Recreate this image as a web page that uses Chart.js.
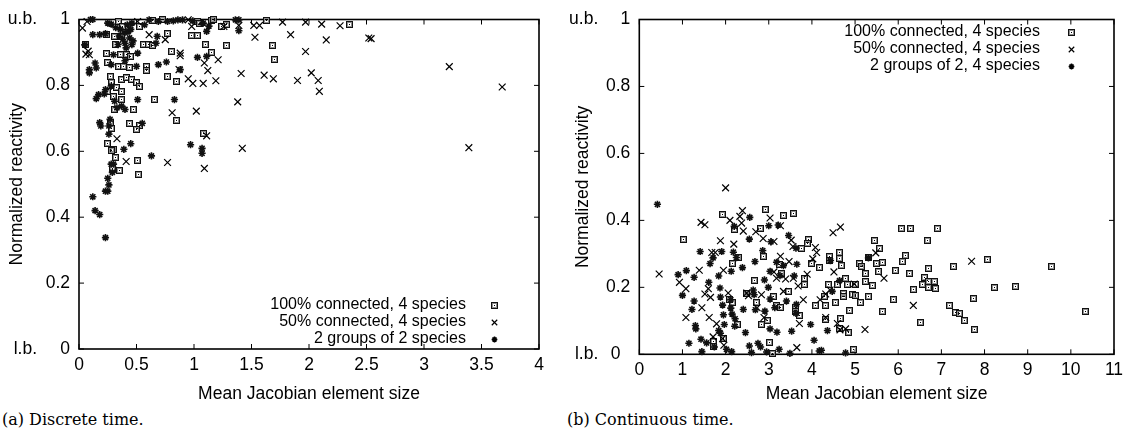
<!DOCTYPE html>
<html>
<head>
<meta charset="utf-8">
<script src="https://cdn.jsdelivr.net/npm/chart.js@4.4.1/dist/chart.umd.min.js"></script>
<style>
html,body{margin:0;padding:0;background:#fff;}
body{width:1131px;height:438px;position:relative;overflow:hidden;}
.panel{position:absolute;top:0;height:405px;}
#p1{left:0;width:565px;}
#p2{left:565px;width:566px;}
.cap{position:absolute;top:411px;font-family:"DejaVu Serif",serif;font-size:16px;line-height:18px;color:#000;white-space:nowrap;}
</style>
</head>
<body>
<div class="panel" id="p1"><canvas id="c1"></canvas></div>
<div class="panel" id="p2"><canvas id="c2"></canvas></div>
<div class="cap" style="left:2px">(a) Discrete time.</div>
<div class="cap" style="left:567px">(b) Continuous time.</div>
<script>
// ---------- tick labels ----------
const xTicksA = [0, 0.5, 1, 1.5, 2, 2.5, 3, 3.5, 4];
const xTicksB = [0, 1, 2, 3, 4, 5, 6, 7, 8, 9, 10, 11];
const yTicks = [0, 0.2, 0.4, 0.6, 0.8, 1];
const boundLabels = ['l.b.', 'u.b.'];
const xTitle = 'Mean Jacobian element size';
const yTitle = 'Normalized reactivity';
const namesA = ['100% connected, 4 species', '50% connected, 4 species', '2 groups of 2 species'];
const namesB = ['100% connected, 4 species', '50% connected, 4 species', '2 groups of 2, 4 species'];

// ---------- (a) discrete time ----------
const discFull = [
[0.34,0.994],[0.38,0.979],[0.53,0.979],[0.64,0.996],[0.73,0.999],[1.03,0.994],[1.15,0.996],[1.05,0.987],[1.17,0.999],[1.28,0.986],[1.24,0.98],[1.63,0.998],[2.35,0.984],
[0.24,0.954],[0.37,0.949],[0.31,0.949],[0.32,0.924],[0.06,0.924],[0.77,0.956],[0.98,0.951],[1.03,0.951],[1.10,0.923],[1.15,0.899],[1.28,0.92],[1.68,0.921],[1.70,0.878],
[0.24,0.898],[0.25,0.868],[0.36,0.893],[0.41,0.893],[0.45,0.888],[0.34,0.858],[0.39,0.858],[0.44,0.855],[0.56,0.924],[0.60,0.924],[0.64,0.921],[0.59,0.858],[0.59,0.845],[0.80,0.903],[0.77,0.828],[0.85,0.811],
[0.27,0.828],[0.37,0.818],[0.41,0.823],[0.46,0.818],[0.50,0.808],[0.53,0.798],[0.28,0.808],[0.33,0.793],[0.37,0.783],[0.25,0.783],[0.30,0.767],[0.37,0.757],[0.66,0.757],[0.31,0.727],[0.47,0.727],[0.85,0.694],
[0.44,0.684],[0.53,0.679],[0.50,0.665],[0.27,0.687],[0.28,0.67],[0.25,0.623],[0.30,0.606],[0.28,0.601],[0.32,0.581],[0.51,0.571],[0.29,0.549],[0.35,0.541],[0.52,0.529],[1.08,0.654]
];
const discHalf = [
[0.03,0.974],[0.07,0.994],[0.51,0.994],[0.95,0.999],[0.61,0.954],[0.75,0.939],[0.08,0.904],[0.09,0.893],[0.06,0.895],[0.88,0.898],[0.88,0.89],
[1.09,0.868],[1.12,0.845],[1.21,0.878],[0.87,0.848],[0.95,0.82],[0.99,0.806],[1.08,0.806],[1.19,0.814],
[0.98,0.979],[1.26,0.979],[1.53,0.946],[1.84,0.954],[1.97,0.992],[2.11,0.986],[2.15,0.938],[2.27,0.981],[1.97,0.903],[2.52,0.944],[2.54,0.942],[1.39,0.982],[1.52,0.982],[1.57,0.982],[1.77,0.992],
[1.41,0.836],[1.61,0.831],[1.69,0.82],[1.90,0.815],[2.02,0.838],[2.08,0.815],[2.09,0.782],[3.22,0.857],[3.68,0.795],[3.39,0.611],
[1.38,0.75],[1.02,0.722],[1.11,0.647],[1.42,0.609],[0.81,0.717],[1.09,0.548],[0.77,0.566],[0.41,0.569],[0.33,0.638]
];
const discGroups = [
[0.10,1.0],[0.12,1.0],[0.25,0.989],[0.28,0.986],[0.42,0.984],[0.46,0.989],[0.57,0.984],[0.61,0.999],[0.69,0.994],[0.77,0.994],[0.82,0.996],[0.86,0.999],[0.90,0.999],[0.99,0.996],[1.08,0.989],[1.13,0.98],[1.36,0.999],[1.39,0.999],[1.39,0.966],
[0.12,0.954],[0.18,0.954],[0.23,0.957],[0.68,0.949],[0.44,0.944],[0.40,0.928],[0.41,0.914],[0.46,0.924],[0.34,0.924],[0.05,0.923],[0.14,0.868],[0.15,0.853],[0.09,0.848],[0.09,0.838],[0.30,0.893],[0.28,0.863],[0.40,0.875],[0.50,0.858],[0.67,0.928],[0.51,0.898],[0.69,0.863],[0.76,0.871],[0.88,0.848],[1.11,0.888],[1.11,0.964],[1.03,0.885],
[0.36,0.97],[0.40,0.96],[0.43,0.965],[0.38,0.94],[0.45,0.97],[0.35,0.95],[0.47,0.935],[0.32,0.975],
[0.28,0.798],[0.22,0.774],[0.17,0.772],[0.15,0.760],[0.31,0.752],[0.51,0.757],[0.83,0.757],[0.33,0.732],[0.37,0.737],[0.40,0.727],[0.27,0.697],[0.23,0.787],
[0.18,0.687],[0.19,0.677],[0.26,0.677],[0.55,0.685],[0.26,0.652],[0.45,0.623],[0.39,0.606],[0.63,0.586],[0.97,0.62],[1.07,0.609],[1.07,0.594],[0.28,0.561],[0.30,0.561],[0.29,0.536],[0.25,0.518],[0.26,0.498],[0.23,0.479],[0.25,0.479],[0.12,0.462],[0.14,0.42],[0.18,0.408],[0.23,0.338]
];

// ---------- (b) continuous time ----------
const contFull = [
[1.02,0.344],[1.92,0.417],[2.2,0.373],[2.93,0.433],[3.34,0.415],[3.57,0.421],[2.81,0.377],[2.87,0.292],[2.15,0.272],[2.29,0.29],[3.24,0.269],[3.76,0.317],[3.93,0.344],[3.89,0.331],[4.0,0.272],[4.17,0.258],[4.08,0.147],[2.66,0.22],[2.49,0.182],[2.72,0.156],[2.83,0.09],[2.97,0.1],[3.01,0.034],[3.09,0.001],[3.10,0.173],[3.18,0.147],[3.27,0.141],[3.45,0.188],[3.63,0.139],[3.63,0.127],[3.72,0.117],[3.82,0.209],[3.82,0.227],[3.30,0.241],[2.27,0.09],[2.09,0.163],[2.16,0.154],[1.73,0.037],[1.73,0.022],[1.95,0.047],[4.30,0.173],
[6.08,0.375],[6.29,0.375],[6.91,0.375],[6.68,0.339],[5.44,0.341],[5.56,0.317],[5.32,0.288],[6.17,0.295],[6.11,0.277],[4.40,0.293],[4.63,0.303],[4.63,0.285],[4.69,0.266],[4.41,0.28],[5.11,0.271],[5.15,0.261],[5.50,0.271],[5.63,0.273],[5.94,0.249],[6.25,0.241],[6.71,0.256],[7.28,0.263],[8.08,0.282],[9.55,0.261],[5.54,0.246],[5.25,0.241],[6.62,0.23],[6.71,0.217],[6.85,0.217],[6.71,0.2],[6.87,0.198],[6.56,0.207],[5.25,0.217],[5.40,0.205],[4.78,0.227],[5.0,0.209],[4.82,0.207],[4.59,0.209],[4.38,0.207],[6.35,0.193],[8.24,0.2],[8.71,0.204],[4.74,0.183],[4.74,0.173],[4.93,0.18],[5.02,0.175],[5.32,0.173],[5.89,0.165],[7.74,0.168],[4.32,0.146],[4.54,0.154],[5.13,0.156],[4.88,0.132],[5.63,0.127],[7.18,0.146],[7.32,0.125],[7.43,0.123],[7.54,0.102],[10.34,0.127],[6.51,0.095],[7.77,0.073],[4.67,0.107],[4.31,0.105],[4.63,0.076],[4.84,0.064],[4.96,0.015]
];
const contHalf = [
[0.46,0.24],[2.0,0.497],[1.43,0.394],[1.52,0.387],[0.93,0.215],[1.08,0.196],[1.08,0.11],[1.39,0.251],[1.45,0.139],[1.52,0.18],[1.60,0.196],[1.65,0.17],[1.68,0.304],[1.76,0.304],[1.62,0.11],[1.71,0.052],[1.79,0.091],[1.88,0.339],[1.95,0.251],[2.06,0.183],[2.19,0.329],[2.10,0.4],[1.96,0.027],[1.93,0.047],[2.33,0.412],[2.39,0.429],[2.37,0.392],[2.41,0.368],[2.49,0.183],[2.53,0.175],[2.70,0.366],[2.87,0.346],[2.83,0.178],[2.73,0.139],[2.89,0.11],[3.03,0.407],[3.12,0.337],[3.12,0.246],[3.18,0.227],[3.27,0.384],[3.27,0.293],[3.39,0.225],[3.34,0.188],[3.47,0.277],[3.57,0.227],[3.52,0.341],[3.56,0.322],[3.65,0.02],[3.71,0.092],[3.68,0.204],[3.80,0.163],[3.89,0.239],[4.02,0.285],[4.08,0.319],[4.11,0.304],[4.19,0.163],
[4.32,0.18],[4.32,0.11],[4.42,0.192],[4.49,0.363],[4.51,0.246],[4.66,0.38],[4.59,0.092],[4.65,0.073],[4.78,0.076],[4.98,0.21],[5.48,0.303],[5.67,0.227],[6.35,0.146],[7.70,0.278],[5.23,0.074]
];
const contGroups = [
[0.42,0.448],[0.9,0.238],[1.0,0.176],[1.09,0.25],[1.27,0.23],[1.41,0.307],[1.27,0.159],[1.22,0.134],[1.30,0.086],[1.31,0.076],[1.15,0.033],[1.43,0.045],[1.45,0.008],[1.56,0.034],[1.61,0.215],[1.64,0.271],[1.71,0.288],[1.74,0.022],[1.91,0.307],[1.84,0.234],[1.87,0.198],[1.88,0.171],[1.93,0.147],[1.95,0.118],[1.84,0.071],[1.88,0.063],[1.97,0.089],[2.02,0.015],[2.14,0.008],[2.12,0.163],[2.12,0.138],[2.15,0.12],[2.22,0.106],[2.21,0.084],[2.13,0.248],[2.18,0.305],[2.25,0.289],[2.39,0.259],[2.2,0.382],[2.55,0.344],[2.56,0.409],[2.41,0.134],[2.46,0.065],[2.55,0.025],[2.60,0.005],[2.66,0.178],[2.64,0.192],[2.68,0.277],[2.69,0.133],[2.75,0.033],[2.81,0.022],[2.86,0.31],[2.90,0.222],[2.91,0.129],[2.95,0.007],[2.99,0.2],[3.0,0.384],[3.05,0.336],[3.03,0.248],[3.03,0.076],[3.03,0.165],[3.14,0.139],[3.18,0.275],[3.22,0.386],[3.24,0.015],[3.19,0.066],[3.26,0.235],[3.34,0.265],[3.41,0.159],[3.46,0.355],[3.49,0.003],[3.53,0.069],[3.59,0.234],[3.63,0.317],[3.65,0.269],[3.64,0.149],[3.63,0.122],[3.97,0.089],[4.05,0.042],[4.17,0.01],[4.22,0.012],[4.36,0.071],[4.47,0.188],[4.64,0.22],[4.43,0.28],[4.78,0.004],[5.31,0.288]
];

// ---------- rendering ----------
const FONT = '"Liberation Sans", Arial, sans-serif';
const AXFS = 17.5;
Chart.defaults.font.family = FONT;
Chart.defaults.color = '#000';

function makeBoxDot() {
  const c = document.createElement('canvas');
  c.width = 7; c.height = 7;
  const g = c.getContext('2d');
  g.strokeStyle = '#111'; g.lineWidth = 1;
  g.strokeRect(0.5, 0.5, 6, 6);
  g.strokeStyle = '#8c8c8c';
  g.strokeRect(1.5, 1.5, 4, 4);
  g.fillStyle = '#000'; g.fillRect(3, 3, 1, 1);
  return c;
}
const boxDot = makeBoxDot();
const toPts = arr => arr.map(p => ({x: p[0], y: p[1]}));

function datasets(full, half, groups, names) {
  return [
    {label: names[0], data: toPts(full), pointStyle: boxDot, pointRadius: 4, borderColor: '#000', backgroundColor: 'rgba(0,0,0,0)', order: 3, clip: false},
    {label: names[1], data: toPts(half), pointStyle: 'crossRot', pointRadius: 4.8, pointBorderWidth: 1.2, borderColor: '#000', backgroundColor: '#000', order: 2, clip: false},
    {label: names[2], data: toPts(groups), pointStyle: 'star', pointRadius: 3.6, pointBorderWidth: 1.6, borderColor: '#111', backgroundColor: '#000', order: 1, clip: false}
  ];
}

const framePlugin = {
  id: 'frame',
  beforeDatasetsDraw(chart, args, o) {
    const {ctx, chartArea: a, scales: {x, y}} = chart;
    ctx.save();
    ctx.strokeStyle = '#000';
    ctx.lineWidth = 1.6;
    ctx.strokeRect(a.left, a.top, a.right - a.left, a.bottom - a.top);
    ctx.lineWidth = 1;
    const L = 5;
    ctx.beginPath();
    x.ticks.forEach(t => {
      const px = x.getPixelForValue(t.value);
      ctx.moveTo(px, a.bottom); ctx.lineTo(px, a.bottom - L);
      ctx.moveTo(px, a.top); ctx.lineTo(px, a.top + L);
    });
    y.ticks.forEach(t => {
      const py = y.getPixelForValue(t.value);
      ctx.moveTo(a.left, py); ctx.lineTo(a.left + L, py);
      ctx.moveTo(a.right, py); ctx.lineTo(a.right - L, py);
    });
    ctx.stroke();
    ctx.fillStyle = '#000';
    ctx.font = AXFS + 'px ' + FONT;
    ctx.textAlign = 'right';
    ctx.textBaseline = 'middle';
    ctx.fillText(boundLabels[0], a.left - o.boundOffset, y.getPixelForValue(0));
    ctx.fillText(boundLabels[1], a.left - o.boundOffset, y.getPixelForValue(1));
    ctx.restore();
    ctx.imageSmoothingEnabled = false;
  },
  afterDatasetsDraw(chart) {
    chart.ctx.imageSmoothingEnabled = true;
  },
  afterDraw(chart, args, o) {
    const {ctx, chartArea: a} = chart;
    ctx.save();
    ctx.imageSmoothingEnabled = false;
    ctx.font = '16px ' + FONT;
    ctx.fillStyle = '#000';
    ctx.strokeStyle = '#000';
    ctx.textAlign = 'right';
    ctx.textBaseline = 'middle';
    const baseY = o.legendFromTop ? a.top + o.legendY : a.bottom - o.legendY;
    chart.data.datasets.forEach((ds, i) => {
      const yy = Math.round(baseY + i * o.legendRow);
      ctx.fillText(ds.label, a.right - o.legendTextOff, yy);
      ctx.lineWidth = ds.pointBorderWidth || 1;
      Chart.helpers.drawPoint(ctx, {pointStyle: ds.pointStyle, radius: ds.pointRadius * 0.8, rotation: 0, borderWidth: ds.pointBorderWidth || 1}, Math.round(a.right - o.legendMarkOff) + 0.5, yy + 0.5);
    });
    ctx.restore();
  }
};

function makeChart(id, dsets, xTicks, xMax, geo) {
  return new Chart(document.getElementById(id), {
    type: 'scatter',
    data: {datasets: dsets},
    options: {
      responsive: true,
      maintainAspectRatio: false,
      animation: false,
      events: [],
      layout: {padding: {left: 0, top: geo.top, right: geo.right, bottom: 0}},
      plugins: {
        legend: {display: false},
        tooltip: {enabled: false},
        frame: geo.frame
      },
      scales: {
        x: {
          type: 'linear', min: 0, max: xMax,
          afterBuildTicks: s => { s.ticks = xTicks.map(v => ({value: v})); },
          grid: {display: false, drawTicks: false},
          border: {display: false},
          ticks: {padding: 5.5, color: '#000', font: {size: AXFS}, maxRotation: 0, autoSkip: false, callback: v => String(v)},
          title: {display: true, text: xTitle, color: '#000', font: {size: AXFS}, padding: {top: 0, bottom: 0}},
          afterFit: s => { s.height = geo.xh; }
        },
        y: {
          type: 'linear', min: 0, max: 1,
          afterBuildTicks: s => { s.ticks = yTicks.map(v => ({value: v})); },
          grid: {display: false, drawTicks: false},
          border: {display: false},
          ticks: {padding: 9, color: '#000', font: {size: AXFS}, autoSkip: false, callback: v => (v === 0 ? geo.zeroLabel : String(v))},
          title: {display: true, text: yTitle, color: '#000', font: {size: AXFS}, padding: {top: geo.ytp, bottom: 0}},
          afterFit: s => { s.width = geo.yw; }
        }
      }
    },
    plugins: [framePlugin]
  });
}

makeChart('c1', datasets(discFull, discHalf, discGroups, namesA), xTicksA, 4, {
  top: 18, right: 26, xh: 56, yw: 79, ytp: 6.5, zeroLabel: '0',
  frame: {boundOffset: 42, legendFromTop: false, legendY: 44, legendRow: 17, legendTextOff: 73, legendMarkOff: 45}
});
makeChart('c2', datasets(contFull, contHalf, contGroups, namesB), xTicksB, 11, {
  top: 12.5, right: 17, xh: 50.7, yw: 74.3, ytp: 7.5, zeroLabel: '0  ',
  frame: {boundOffset: 41, legendFromTop: true, legendY: 12.5, legendRow: 17, legendTextOff: 74, legendMarkOff: 43}
});
</script>
</body>
</html>
